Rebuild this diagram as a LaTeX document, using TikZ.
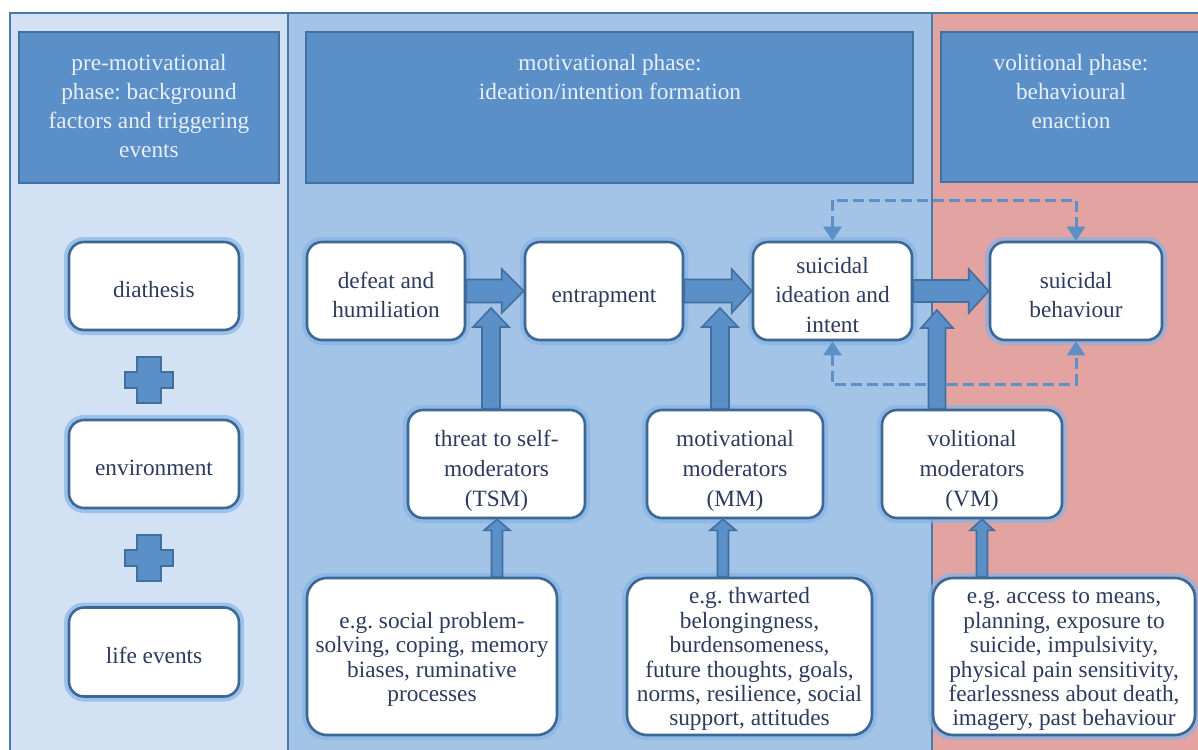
\documentclass[tikz,border=0pt]{standalone}
\usepackage{fontspec}
\setmainfont{Liberation Serif}
\usetikzlibrary{arrows.meta,calc}
\frenchspacing

\definecolor{panelA}{HTML}{D2E2F4}
\definecolor{panelB}{HTML}{A3C3E7}
\definecolor{panelC}{HTML}{E3A3A1}
\definecolor{frameline}{HTML}{4A78A8}
\definecolor{headfill}{HTML}{5B8FC8}
\definecolor{headline}{HTML}{42709F}
\definecolor{headtext}{HTML}{E8EFF8}
\definecolor{boxline}{HTML}{3D6895}
\definecolor{glow}{HTML}{86B4E6}
\definecolor{txt}{HTML}{2C3B5E}
\definecolor{arrfill}{HTML}{5B8FC8}
\definecolor{arrline}{HTML}{41709F}
\definecolor{dashcol}{HTML}{5B90C8}

% lowered block of centred lines (keeps the node's centring extents)
\newcommand{\tx}[2][6pt]{\raisebox{-#1}[\height][\depth]{\begin{tabular}{@{}c@{}}#2\end{tabular}}}

\newcommand{\hblock}[5]{%
  \filldraw[blk] let \p1=(#1), \p2=(#2) in
   (\x1,\y1+#3) -- (\x2-#5,\y1+#3) -- (\x2-#5,\y1+#4) -- (\x2,\y1) --
   (\x2-#5,\y1-#4) -- (\x2-#5,\y1-#3) -- (\x1,\y1-#3) -- cycle;}
\newcommand{\vblock}[5]{%
  \filldraw[blk] let \p1=(#1), \p2=(#2) in
   (\x1-#3,\y1) -- (\x1-#3,\y2-#5) -- (\x1-#4,\y2-#5) -- (\x1,\y2) --
   (\x1+#4,\y2-#5) -- (\x1+#3,\y2-#5) -- (\x1+#3,\y1) -- cycle;}
\newcommand{\plussign}[1]{%
  \filldraw[blk] let \p1=(#1) in
   (\x1-12pt,\y1+23pt) -- (\x1+12pt,\y1+23pt) -- (\x1+12pt,\y1+8pt) -- (\x1+24pt,\y1+8pt) --
   (\x1+24pt,\y1-8pt) -- (\x1+12pt,\y1-8pt) -- (\x1+12pt,\y1-23pt) -- (\x1-12pt,\y1-23pt) --
   (\x1-12pt,\y1-8pt) -- (\x1-24pt,\y1-8pt) -- (\x1-24pt,\y1+8pt) -- (\x1-12pt,\y1+8pt) -- cycle;}

\begin{document}
\begin{tikzpicture}[x=1pt,y=-1pt,
  panel/.style={draw=frameline, line width=2.5pt},
  head/.style={fill=headfill, draw=headline, line width=2.5pt},
  htext/.style={text=headtext, align=center, inner sep=0pt, anchor=north,
    font=\fontsize{23.3}{29.2}\selectfont\frenchspacing},
  box/.style={draw=boxline, line width=2.6pt, fill=white, rounded corners=15pt,
    inner sep=0pt, text=txt,
    font=\fontsize{23.3}{29.2}\selectfont\frenchspacing,
    preaction={draw=glow, line width=10pt, opacity=0.7}},
  modbox/.style={box, font=\fontsize{23.3}{30}\selectfont\frenchspacing},
  exbox/.style={box, rounded corners=20pt,
    font=\fontsize{23.3}{24.4}\selectfont\frenchspacing},
  blk/.style={fill=arrfill, draw=arrline, line width=1.6pt, line join=miter},
  dconn/.style={draw=dashcol, line width=3pt, dash pattern=on 11pt off 5pt,
    {Triangle[width=18pt,length=14pt]}-{Triangle[width=18pt,length=14pt]}}
]
\useasboundingbox (0,0) rectangle (1198,749);
\clip (0,0) rectangle (1198,749);
\fill[white] (0,0) rectangle (1198,749);

% panels
\filldraw[panel, fill=panelA] (10,13) rectangle (288,770);
\filldraw[panel, fill=panelB] (288,13) rectangle (932,770);
\filldraw[panel, fill=panelC] (932,13) rectangle (1220,770);

% headers
\filldraw[head] (19,32) rectangle (279,183);
\filldraw[head] (306,32) rectangle (913,183);
\filldraw[head] (941,32) rectangle (1220,182);
\node[htext] (h1) at (149,54) {pre-motivational\\phase: background\\factors and triggering\\events};
\node[htext] (h2) at (610,54) {motivational phase:\\ideation/intention formation};
\node[htext] (h3) at (1071,54) {volitional phase:\\behavioural\\enaction};

% pre-motivational boxes
\node[box, minimum width=170pt, minimum height=88pt] (dia) at (154,286) {\tx{diathesis}};
\node[box, minimum width=170pt, minimum height=88pt] (env) at (154,464) {\tx{environment}};
\node[box, minimum width=170pt, minimum height=89pt] (life) at (154,652) {\tx{life events}};
\coordinate (p1) at (149,380);
\coordinate (p2) at (149,558);
\plussign{p1}
\plussign{p2}

% main chain
\node[box, minimum width=158pt, minimum height=98pt] (defeat) at (386,291) {\tx{defeat and\\humiliation}};
\node[box, minimum width=158pt, minimum height=98pt] (entrap) at (604,291) {\tx{entrapment}};
\node[box, minimum width=159pt, minimum height=98pt] (ideat) at (832.5,291) {\tx{suicidal\\ideation and\\intent}};
\node[box, minimum width=172pt, minimum height=98pt] (behav) at (1076,291) {\tx{suicidal\\behaviour}};

% moderators
\node[modbox, minimum width=177pt, minimum height=108pt] (tsm) at (496.5,464) {\tx{threat to self-\\moderators\\(TSM)}};
\node[modbox, minimum width=176pt, minimum height=108pt] (mm) at (735,464) {\tx{motivational\\moderators\\(MM)}};
\node[modbox, minimum width=180pt, minimum height=108pt] (vm) at (972,464) {\tx{volitional\\moderators\\(VM)}};

% examples
\node[exbox, minimum width=250pt, minimum height=157pt] (tsmx) at (432,656.5) {\tx[3.5pt]{e.g. social problem-\\solving, coping, memory\\biases, ruminative\\processes}};
\node[exbox, minimum width=245pt, minimum height=157pt] (mmx) at (749.5,656.5) {\tx[3.5pt]{e.g. thwarted\\belongingness,\\burdensomeness,\\future thoughts, goals,\\norms, resilience, social\\support, attitudes}};
\node[exbox, minimum width=262pt, minimum height=157pt] (vmx) at (1064,656.5) {\tx[3.5pt]{e.g. access to means,\\planning, exposure to\\suicide, impulsivity,\\physical pain sensitivity,\\fearlessness about death,\\imagery, past behaviour}};

% dashed feedback connectors
\coordinate (dtop) at (0,200);
\coordinate (dbot) at (0,384);
\draw[dconn] (ideat.north) -- (ideat.north |- dtop) -| (behav.north);
\draw[dconn] (ideat.south) -- (ideat.south |- dbot) -| (behav.south);

% horizontal block arrows
\hblock{defeat.east}{entrap.west}{11.5pt}{22pt}{22pt}
\hblock{entrap.east}{ideat.west}{11.5pt}{22pt}{20pt}
\hblock{ideat.east}{behav.west}{11pt}{22pt}{20pt}

% big vertical block arrows
\coordinate (a1) at (491,308);
\coordinate (a2) at (720,308);
\coordinate (a3) at (937,310);
\vblock{a1 |- tsm.north}{a1}{9pt}{18pt}{19pt}
\vblock{a2 |- mm.north}{a2}{9pt}{18pt}{19pt}
\vblock{a3 |- vm.north}{a3}{8.5pt}{16pt}{18pt}

% small vertical block arrows
\coordinate (s1) at (497,0);
\coordinate (s2) at (723,0);
\coordinate (s3) at (982,0);
\vblock{s1 |- tsmx.north}{s1 |- tsm.south}{5.5pt}{13pt}{11pt}
\vblock{s2 |- mmx.north}{s2 |- mm.south}{5.5pt}{13pt}{11pt}
\vblock{s3 |- vmx.north}{s3 |- vm.south}{5.5pt}{12pt}{11pt}
\end{tikzpicture}
\end{document}
